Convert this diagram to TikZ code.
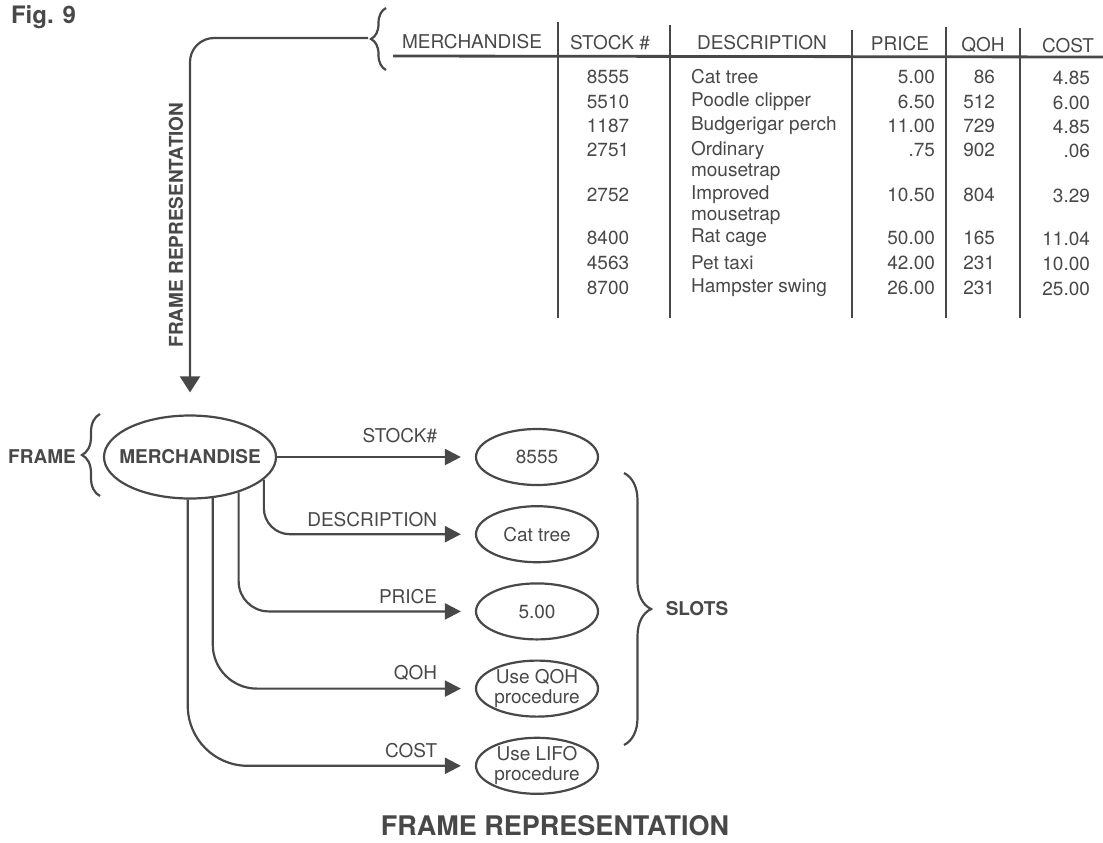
\documentclass[tikz,border=0pt]{standalone}
\usepackage{fontspec}
\setmainfont{TeX Gyre Heros}
\usepackage{xcolor}
\usepackage{tikz}
\usetikzlibrary{positioning,shapes.geometric,arrows.meta,decorations.pathreplacing}
\definecolor{ink}{HTML}{484848}

\begin{document}
\begin{tikzpicture}[
    x=0.5pt, y=-0.5pt,
    node distance=9.5pt,
    every node/.style={text=ink, font=\fontsize{9.5}{10}\selectfont},
    lbl/.style={font=\bfseries\fontsize{9.5}{10}\selectfont},
    frame/.style={ellipse, draw=ink, line width=1.1pt, minimum width=86pt, minimum height=41.5pt, inner xsep=-8pt, inner ysep=-4pt, lbl},
    slot/.style={ellipse, draw=ink, line width=1.1pt, minimum width=61pt, minimum height=28pt, inner xsep=-8pt, inner ysep=-4pt, align=center},
    flow/.style={-{Triangle[length=8pt,width=8pt]}, draw=ink, line width=1.1pt, shorten >=7pt},
    lab/.style={pos=1, anchor=south east, xshift=-15pt},
    rule/.style={draw=ink, line width=1pt},
    curly/.style={draw=ink, line width=1.1pt, decorate, decoration={brace, amplitude=#1}}
  ]
    \useasboundingbox (0,0) rectangle (1103,842);

    \node[font=\bfseries\fontsize{12}{14}\selectfont, anchor=west] (fig) at (4,17) {Fig. 9};

    \node (hmerch) at (472,42) {MERCHANDISE};
    \node (hstock) at (610,43) {STOCK \#};
    \node (hdesc) at (762,43) {DESCRIPTION};
    \node (hprice) at (900,44) {PRICE};
    \node (hqoh) at (983,45) {QOH};
    \node (hcost) at (1068,46) {COST};
    \draw[rule, line width=1.4pt] (393,56) -- (1103,57);
    \foreach \x/\t in {558/22, 670/25, 852/30, 946/27, 1020/28}
      \draw[rule] (\x,\t) -- (\x,318);

    \foreach \y/\st/\de/\pr/\qo/\co in {77/8555/Cat tree/5.00/86/4.85, 102/5510/Poodle clipper/6.50/512/6.00,
        126/1187/Budgerigar perch/11.00/729/4.85, 150/2751/Ordinary/.75/902/.06, 195/2752/Improved/10.50/804/3.29,
        238/8400/Rat cage/50.00/165/11.04, 263/4563/Pet taxi/42.00/231/10.00, 288/8700/Hampster swing/26.00/231/25.00} {
      \node (stock\y) at (608,\y) {\st};
      \node[anchor=west] (desc\y) at (684,\y) {\de};
      \node[anchor=east] (price\y) at (942,\y) {\pr};
      \node[anchor=east] (qoh\y) at (1002,\y) {\qo};
      \node[anchor=east] (cost\y) at (1097,\y+1) {\co};
    }
    \node[anchor=west] (desc150b) at (684,172) {mousetrap};
    \node[anchor=west] (desc195b) at (684,216) {mousetrap};

    \node[frame] (merch) at (190,457) {MERCHANDISE};
    \node[lbl] (framelbl) at (42,457) {FRAME};
    \draw[curly=9pt] (100,496) -- (100,414);

    \node[slot] (s1) at (537,457) {8555};
    \node[slot, below=of s1] (s2) {Cat tree};
    \node[slot, below=of s2] (s3) {5.00};
    \node[slot, below=of s3] (s4) {Use QOH\\procedure};
    \node[slot, below=of s4] (s5) {Use LIFO\\procedure};

    \draw[curly=13.5pt] (624,473) -- (624,745);
    \node[lbl] (slotslbl) at (697,609) {SLOTS};

    \draw[curly=7.5pt] (386,70) -- (386,8);
    \coordinate (tbrace) at (368,38);
    \draw[flow, -{Triangle[length=8pt,width=10pt]}, rounded corners=12pt, shorten >=11pt] (tbrace) -| (merch.north);
    \node[lbl, rotate=90] (vlabel) at (176,225) {FRAME REPRESENTATION};

    \draw[flow] (merch) -- node[lab, yshift=3pt]{STOCK\#} (s1);
    \draw[flow, rounded corners=13pt] (merch.-17) |- node[lab]{DESCRIPTION} (s2);
    \draw[flow, rounded corners=15pt] (merch.-36) |- node[lab]{PRICE} (s3);
    \draw[flow, rounded corners=22pt] (merch.-61) |- node[lab]{QOH} (s4);
    \draw[flow, rounded corners=30pt] (merch.-93) |- node[lab]{COST} (s5);

    \node[font=\bfseries\fontsize{13.5}{16}\selectfont, inner sep=0pt] (title) at (555,826) {FRAME REPRESENTATION};
  \end{tikzpicture}
\end{document}
